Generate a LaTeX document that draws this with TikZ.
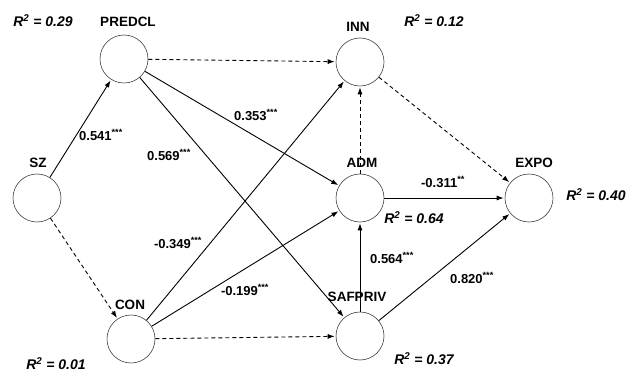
\documentclass[tikz,border=0pt]{standalone}
\usepackage{fontspec}
\setmainfont{Liberation Sans}
\usetikzlibrary{arrows.meta}
\begin{document}
\begin{tikzpicture}[x=1pt,y=-1pt,
  var/.style={circle,draw=black!75,line width=0.6pt,minimum size=48pt,inner sep=0pt},
  vlabel/.style={font=\fontsize{13.5}{15}\selectfont\bfseries,inner sep=0pt},
  rsq/.style={font=\fontsize{14}{16}\selectfont\bfseries\itshape,inner sep=0pt},
  coef/.style={font=\fontsize{13}{15}\selectfont\bfseries,inner sep=0pt},
  path/.style={line width=0.9pt,-{Latex[length=7pt,width=5pt]},shorten >=1pt},
  nspath/.style={path,dash pattern=on 4pt off 3pt}
]
\useasboundingbox (0,0) rectangle (629,374);
% variables
\node[var] (SZ) at (37,198) {};
\node[var] (PREDCL) at (124,59) {};
\node[var] (CON) at (131,339) {};
\node[var] (INN) at (360,62) {};
\node[var] (ADM) at (360,198) {};
\node[var] (SAFPRIV) at (360,336) {};
\node[var] (EXPO) at (529,198) {};
% variable labels
\node[vlabel] (lSZ) at (38,163) {SZ};
\node[vlabel] (lPREDCL) at (128,22) {PREDCL};
\node[vlabel] (lCON) at (130,305) {CON};
\node[vlabel] (lINN) at (358,27) {INN};
\node[vlabel] (lADM) at (362,163) {ADM};
\node[vlabel] (lSAFPRIV) at (357,297) {SAFPRIV};
\node[vlabel] (lEXPO) at (534,163) {EXPO};
% R squared
\node[rsq] (r1) at (43,21) {R\textsuperscript{2} = 0.29};
\node[rsq] (r2) at (434,21) {R\textsuperscript{2} = 0.12};
\node[rsq] (r3) at (414,218) {R\textsuperscript{2} = 0.64};
\node[rsq] (r4) at (596,195) {R\textsuperscript{2} = 0.40};
\node[rsq] (r5) at (424,359) {R\textsuperscript{2} = 0.37};
\node[rsq] (r6) at (56,364) {R\textsuperscript{2} = 0.01};
% paths
\draw[path] (SZ) -- (PREDCL);
\draw[nspath] (SZ) -- (CON);
\draw[nspath] (PREDCL) -- (INN);
\draw[path] (PREDCL) -- (ADM);
\draw[path] (PREDCL) -- (SAFPRIV);
\draw[path] (CON) -- (INN);
\draw[path] (CON) -- (ADM);
\draw[nspath] (CON) -- (SAFPRIV);
\draw[nspath] (ADM) -- (INN);
\draw[nspath] (INN) -- (EXPO);
\draw[path] (ADM) -- (EXPO);
\draw[path] (SAFPRIV) -- (ADM);
\draw[path] (SAFPRIV) -- (EXPO);
% coefficients
\node[coef] (c1) at (101,135) {0.541\textsuperscript{***}};
\node[coef] (c2) at (169,155) {0.569\textsuperscript{***}};
\node[coef] (c3) at (256,115) {0.353\textsuperscript{***}};
\node[coef] (c4) at (178,243) {-0.349\textsuperscript{***}};
\node[coef] (c5) at (245,290) {-0.199\textsuperscript{***}};
\node[coef] (c6) at (443,182) {-0.311\textsuperscript{**}};
\node[coef] (c7) at (392,258) {0.564\textsuperscript{***}};
\node[coef] (c8) at (472,278) {0.820\textsuperscript{***}};
\end{tikzpicture}
\end{document}
